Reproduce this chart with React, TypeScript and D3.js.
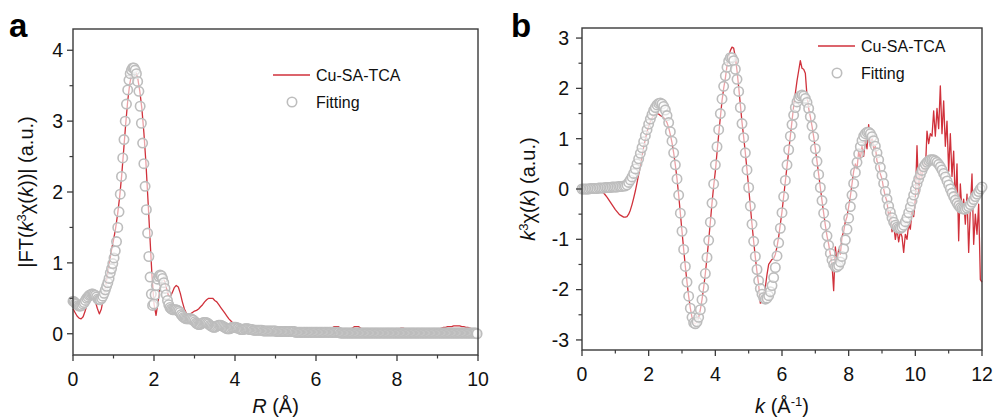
import React from 'react';
import * as d3 from 'd3';

// ---------- Panel a data (FT magnitude) ----------
const rStepFit = 0.0307;
const fitA = [
  0.46,0.45,0.43,0.42,0.40,0.39,0.39,0.40,0.42,0.44,
  0.47,0.50,0.52,0.54,0.55,0.56,0.56,0.55,0.54,0.52,
  0.49,0.48,0.48,0.50,0.53,0.57,0.62,0.67,0.72,0.78,
  0.86,0.92,0.99,1.07,1.17,1.30,1.50,1.72,1.97,2.22,
  2.48,2.74,3.00,3.24,3.44,3.58,3.67,3.72,3.75,3.75,
  3.72,3.67,3.56,3.42,3.21,2.97,2.69,2.40,2.08,1.75,
  1.42,1.09,0.80,0.56,0.40,0.42,0.55,0.68,0.77,0.81,
  0.83,0.82,0.78,0.72,0.64,0.55,0.47,0.41,0.37,0.35,
  0.34,0.34,0.34,0.34,0.33,0.32,0.30,0.27,0.25,0.23,
  0.22,0.21,0.21,0.21,0.21,0.21,0.20,0.19,0.17,0.15,
  0.14,0.13,0.13,0.14,0.15,0.16,0.16,0.16,0.15,0.14,
  0.12,0.11,0.10,0.09,0.09,0.10,0.11,0.12,0.12,0.12,
  0.11,0.10,0.09,0.08,0.07,0.07,0.07,0.08,0.09,0.09,
  0.09,0.09,0.08,0.08,0.07,0.06,0.06,0.06,0.07,0.07,
  0.07,0.07,0.06,0.06,0.06,0.05,0.05,0.05,0.05,0.05,
  0.05,0.05,0.05,0.04,0.04,0.04,0.04,0.04,0.04,0.04,
  0.04,0.04,0.04,0.04,0.03,0.03,0.03,0.03,0.03,0.03,
  0.03,0.03,0.03,0.03,0.03,0.03,0.03,0.03,0.03,0.02,
  0.02,0.02,0.02,0.02,0.02,0.02,0.02,0.02,0.02,0.02,
  0.02,0.02,0.02,0.02,0.02,0.02,0.02,0.02,0.02,0.02,
  0.02,0.02,0.02,0.02,0.02,0.02,0.02,0.02,0.02,0.02,
  0.02,0.02,0.02,0.02,0.02,0.01,0.01,0.01,0.01,0.01,
  0.01,0.01,0.01,0.01,0.01,0.01,0.01,0.01,0.01,0.01,
  0.01,0.01,0.01,0.01,0.01,0.01,0.01,0.01,0.01,0.01,
  0.01,0.01,0.01,0.01,0.01,0.01,0.01,0.01,0.01,0.01,
  0.01,0.01,0.01,0.01,0.01,0.01,0.01,0.01,0.01,0.01,
  0.01,0.01,0.01,0.01,0.01,0.01,0.01,0.01,0.01,0.01,
  0.01,0.01,0.01,0.01,0.01,0.01,0.01,0.01,0.01,0.01,
  0.01,0.01,0.01,0.01,0.01,0.01,0.01,0.01,0.01,0.01,
  0.01,0.01,0.01,0.01,0.01,0.01,0.01,0.01,0.01,0.01,
  0.01,0.01,0.01,0.01,0.01,0.01,0.01,0.01,0.01,0.01,
  0.01,0.01,0.01,0.01,0.01,0.01,0.01,0.01,0.01,0.01,
  0.01,0.01,0.01,0.01,0.01,0.00
];

const rStepData = 0.05;
const dataA = [
  0.35,0.30,0.25,0.22,0.21,0.24,0.32,0.42,0.50,0.53,
  0.52,0.46,0.36,0.28,0.35,0.50,0.66,0.82,1.00,1.18,
  1.32,1.48,1.68,1.92,2.22,2.58,2.95,3.28,3.52,3.67,
  3.73,3.70,3.60,3.42,3.18,2.84,2.42,1.90,1.36,0.82,
  0.42,0.26,0.45,0.65,0.76,0.76,0.66,0.55,0.52,0.58,
  0.65,0.68,0.66,0.57,0.45,0.35,0.29,0.27,0.28,0.30,
  0.32,0.33,0.35,0.38,0.41,0.45,0.48,0.50,0.50,0.50,
  0.47,0.45,0.41,0.37,0.33,0.29,0.25,0.21,0.18,0.15,
  0.12,0.10,0.08,0.07,0.06,0.06,0.06,0.07,0.08,0.09,
  0.10,0.10,0.10,0.09,0.07,0.05,0.04,0.03,0.03,0.03,
  0.04,0.05,0.05,0.04,0.03,0.02,0.02,0.02,0.03,0.04,
  0.04,0.03,0.02,0.02,0.02,0.02,0.02,0.03,0.03,0.03,
  0.03,0.02,0.02,0.02,0.03,0.04,0.05,0.07,0.08,0.10,
  0.10,0.10,0.08,0.05,0.04,0.04,0.05,0.07,0.08,0.10,
  0.10,0.10,0.08,0.05,0.03,0.02,0.02,0.02,0.02,0.02,
  0.03,0.03,0.03,0.03,0.02,0.02,0.02,0.03,0.04,0.05,
  0.06,0.07,0.08,0.08,0.07,0.05,0.03,0.02,0.02,0.02,
  0.02,0.02,0.02,0.02,0.03,0.03,0.03,0.03,0.04,0.05,
  0.06,0.07,0.08,0.09,0.09,0.10,0.10,0.10,0.11,0.11,
  0.11,0.11,0.10,0.10,0.09,0.09,0.08,0.07,0.06,0.05,
  0.05
];

// ---------- Panel b data (k^3 chi(k)) ----------
const kStep = 0.05;
const fitB = [
  0.00,0.00,0.00,0.00,0.00,0.01,0.01,0.01,0.01,0.01,
  0.02,0.02,0.02,0.02,0.03,0.03,0.03,0.03,0.04,0.04,
  0.04,0.04,0.05,0.05,0.05,0.06,0.06,
  0.08,0.13,0.18,0.24,0.31,0.40,0.50,0.60,0.71,0.82,
  0.94,1.06,1.18,1.29,1.39,1.48,1.56,1.62,1.67,1.70,1.71,
  1.69,1.64,1.57,1.46,1.32,1.14,0.95,0.72,0.48,
  0.20,-0.12,-0.48,-0.84,-1.20,-1.54,-1.85,-2.13,-2.37,-2.55,
  -2.66,-2.68,-2.64,-2.55,-2.40,-2.20,-1.96,-1.68,-1.36,-1.02,
  -0.66,-0.28,0.10,0.48,0.84,1.18,1.50,1.79,2.04,
  2.25,2.42,2.54,2.61,
  2.61,2.55,2.38,2.18,1.94,1.62,1.30,1.02,0.72,0.38,
  0.03,-0.34,-0.70,-1.04,-1.34,-1.60,-1.82,-1.98,-2.09,-2.16,
  -2.19,-2.17,-2.12,-2.04,-1.92,-1.76,-1.56,-1.33,-1.07,-0.78,
  -0.47,-0.15,0.17,0.48,0.78,1.05,1.28,1.47,1.62,1.73,
  1.81,1.85,1.87,1.85,1.80,1.72,1.60,1.44,1.25,1.04,
  0.80,0.55,0.29,0.03,-0.23,-0.48,-0.72,-0.93,-1.12,-1.28,
  -1.41,-1.50,-1.55,-1.55,-1.52,-1.45,-1.34,-1.19,-1.01,-0.80,
  -0.58,-0.35,-0.12,0.11,0.33,0.53,0.70,0.84,0.96,1.05,
  1.10,1.13,1.13,1.10,1.04,0.96,0.85,0.72,0.58,0.43,
  0.27,0.11,-0.05,-0.20,-0.34,-0.46,-0.57,-0.66,-0.72,-0.76,
  -0.78,-0.78,-0.76,-0.72,-0.65,-0.57,-0.47,-0.36,-0.24,-0.12,
  -0.01,0.10,0.20,0.29,0.37,0.44,0.49,0.53,0.56,0.58,
  0.58,0.58,0.56,0.53,0.49,0.44,0.38,0.31,0.24,0.16,
  0.08,0.00,-0.08,-0.15,-0.22,-0.28,-0.33,-0.37,-0.39,-0.40,
  -0.40,-0.38,-0.35,-0.31,-0.26,-0.21,-0.15,-0.10,-0.05,0.00,
  0.04
];

const dataB = [
  0,0,0,0,0,0,0,0,0,0,0,
  -0.02,-0.05,-0.08,-0.12,-0.16,-0.21,-0.26,-0.31,-0.36,
  -0.41,-0.45,-0.49,-0.52,-0.54,-0.56,-0.56,-0.55,-0.50,-0.42,
  -0.31,-0.18,-0.04,0.12,0.29,0.47,0.65,0.83,0.99,1.13,
  1.25,1.34,1.41,1.46,1.49,1.50,1.49,1.46,1.44,1.42,
  1.38,1.32,1.22,1.08,0.92,0.72,0.48,
  0.20,-0.12,-0.48,-0.84,-1.20,-1.54,-1.85,-2.13,-2.37,-2.55,
  -2.66,-2.68,-2.64,-2.55,-2.40,-2.20,-1.96,-1.68,-1.36,-1.02,
  -0.66,-0.28,0.06,
  0.35,0.72,1.08,1.42,1.75,2.00,2.20,2.45,2.62,2.75,
  2.82,2.80,2.62,2.35,2.03,1.68,1.33,1.03,0.72,0.38,
  0.03,-0.34,-0.70,-1.04,-1.36,-1.65,-1.90,-2.27,-2.25,-2.20,
  -1.95,-1.70,-1.50,-1.45,-1.40,-1.38,-1.30,-1.15,-0.95,-0.70,
  -0.45,-0.15,0.15,0.45,0.75,1.05,1.35,1.65,1.90,2.15,
  2.35,2.55,2.40,2.38,2.30,1.85,1.60,1.44,1.25,1.04,
  0.80,0.55,0.29,0.03,-0.23,-0.48,-0.72,-0.93,-1.10,-1.30,
  -1.50,-2.02,-1.15,-1.45,-1.20,-1.30,-0.95,-0.85,-0.65,-0.55,
  -0.35,-0.15,0.10,0.35,0.50,0.40,0.75,0.60,0.85,0.65,
  1.00,0.80,1.28,0.85,1.05,0.80,0.85,0.55,0.50,0.30,
  0.20,0.00,-0.15,-0.25,-0.55,-0.45,-0.85,-0.70,-1.00,-0.80,
  -1.05,-0.85,-0.95,-1.26,-0.90,-1.00,-0.70,-0.80,-0.45,-0.55,
  -0.20,0.86,-0.10,0.40,0.20,0.55,0.35,1.15,0.90,1.10,
  1.05,1.55,1.05,1.60,1.20,2.05,1.10,1.75,0.85,1.35,
  0.35,1.10,0.25,0.75,-0.30,0.50,-1.03,0.10,-0.45,-0.20,
  -0.70,-0.10,-1.26,-0.40,0.30,-1.10,-0.50,-0.90,-0.30,-1.80,
  -1.85
];

// ---------- Ticks & labels ----------
const xTicksA = [0, 2, 4, 6, 8, 10];
const xMinorA = [1, 3, 5, 7, 9];
const yTicksA = [0, 1, 2, 3, 4];
const yMinorA = [0.5, 1.5, 2.5, 3.5];
const xTicksB = [0, 2, 4, 6, 8, 10, 12];
const xMinorB = [1, 3, 5, 7, 9, 11];
const yTicksB = [-3, -2, -1, 0, 1, 2, 3];
const yMinorB = [-2.5, -1.5, -0.5, 0.5, 1.5, 2.5];
const seriesNames = ['Cu-SA-TCA', 'Fitting'];

const FONT = '"Liberation Sans", Arial, Helvetica, sans-serif';
const RED = '#d0313b';
const GRAY = '#bdbdbd';
const AXIS = '#3a3a3a';
const CR = 4.7;

type PanelProps = {
  xDomain: [number, number];
  yDomain: [number, number];
  left: number; right: number; top: number; bottom: number;
  xTicks: number[]; xMinor: number[]; yTicks: number[]; yMinor: number[];
  data: number[]; dataStep: number;
  fit: number[]; fitStep: number;
  yLabelOffset: number;
  legendX: number; legendY: number;
  letter: string; letterX: number;
  xTitle: React.ReactNode; yTitle: React.ReactNode; yTitleX: number;
};

function Panel(p: PanelProps) {
  const x = d3.scaleLinear().domain(p.xDomain).range([p.left, p.right]);
  const y = d3.scaleLinear().domain(p.yDomain).range([p.bottom, p.top]);
  const line = d3.line<number>()
    .x((_, i) => x(i * p.dataStep))
    .y(d => y(d))
    .curve(d3.curveLinear);
  const majorLen = 6, minorLen = 3.5;
  const cx = (p.left + p.right) / 2;
  const cy = (p.top + p.bottom) / 2;
  return (
    <g fontFamily={FONT}>
      <path d={line(p.data) || ''} fill="none" stroke={RED} strokeWidth={1.3} strokeLinejoin="round" />
      {p.fit.map((v, i) => (
        <circle key={i} cx={x(i * p.fitStep)} cy={y(v)} r={CR}
          fill="#ffffff" fillOpacity={0.55} stroke={GRAY} strokeWidth={1.6} />
      ))}
      <rect x={p.left} y={p.top} width={p.right - p.left} height={p.bottom - p.top}
        fill="none" stroke={AXIS} strokeWidth={1.4} />
      {p.xTicks.map(t => (
        <g key={'xt' + t}>
          <line x1={x(t)} x2={x(t)} y1={p.bottom} y2={p.bottom + majorLen} stroke={AXIS} strokeWidth={1.3} />
          <text x={x(t)} y={p.bottom + 31} textAnchor="middle" fontSize={19.5} fill="#111">{t}</text>
        </g>
      ))}
      {p.xMinor.map(t => (
        <line key={'xm' + t} x1={x(t)} x2={x(t)} y1={p.bottom} y2={p.bottom + minorLen} stroke={AXIS} strokeWidth={1.2} />
      ))}
      {p.yTicks.map(t => (
        <g key={'yt' + t}>
          <line x1={p.left - majorLen} x2={p.left} y1={y(t)} y2={y(t)} stroke={AXIS} strokeWidth={1.3} />
          <text x={p.left - p.yLabelOffset} y={y(t)} dy="0.35em" textAnchor="end" fontSize={19.5} fill="#111">{t}</text>
        </g>
      ))}
      {p.yMinor.map(t => (
        <line key={'ym' + t} x1={p.left - minorLen} x2={p.left} y1={y(t)} y2={y(t)} stroke={AXIS} strokeWidth={1.2} />
      ))}
      <text x={cx} y={413} textAnchor="middle" fontSize={20} fill="#111">{p.xTitle}</text>
      <text transform={`translate(${p.yTitleX},${cy}) rotate(-90)`} textAnchor="middle" fontSize={20} fill="#111">{p.yTitle}</text>
      <text x={p.letterX} y={37} fontSize={33} fontWeight="bold" fill="#000">{p.letter}</text>
      <g>
        <line x1={p.legendX} x2={p.legendX + 37} y1={p.legendY} y2={p.legendY} stroke={RED} strokeWidth={1.4} />
        <text x={p.legendX + 43} y={p.legendY} dy="0.36em" fontSize={16} fill="#111">{seriesNames[0]}</text>
        <circle cx={p.legendX + 19} cy={p.legendY + 27} r={CR} fill="#fff" stroke={GRAY} strokeWidth={1.6} />
        <text x={p.legendX + 43} y={p.legendY + 27} dy="0.36em" fontSize={16} fill="#111">{seriesNames[1]}</text>
      </g>
    </g>
  );
}

export default function App() {
  return (
    <svg width={995} height={419} style={{ position: 'absolute', left: 0, top: 0, background: '#fff' }}>
      <rect x={0} y={0} width={995} height={419} fill="#fff" />
      <Panel
        xDomain={[0, 10]} yDomain={[-0.3, 4.3]}
        left={73} right={478} top={29} bottom={355}
        xTicks={xTicksA} xMinor={xMinorA} yTicks={yTicksA} yMinor={yMinorA}
        data={dataA} dataStep={rStepData} fit={fitA} fitStep={rStepFit}
        yLabelOffset={10}
        legendX={273} legendY={75}
        letter="a" letterX={9}
        xTitle={<><tspan fontStyle="italic">R</tspan> (Å)</>}
        yTitle={<>|FT(<tspan fontStyle="italic">k</tspan><tspan baselineShift="super" fontSize={13}>3</tspan>χ(<tspan fontStyle="italic">k</tspan>))| (a.u.)</>}
        yTitleX={33}
      />
      <Panel
        xDomain={[0, 12]} yDomain={[-3.2, 3.2]}
        left={582} right={982} top={28} bottom={350}
        xTicks={xTicksB} xMinor={xMinorB} yTicks={yTicksB} yMinor={yMinorB}
        data={dataB} dataStep={kStep} fit={fitB} fitStep={kStep}
        yLabelOffset={13}
        legendX={818} legendY={46}
        letter="b" letterX={511}
        xTitle={<><tspan fontStyle="italic">k</tspan> (Å<tspan baselineShift="super" fontSize={13}>-1</tspan>)</>}
        yTitle={<><tspan fontStyle="italic">k</tspan><tspan baselineShift="super" fontSize={13}>3</tspan>χ(<tspan fontStyle="italic">k</tspan>) (a.u.)</>}
        yTitleX={535}
      />
    </svg>
  );
}
